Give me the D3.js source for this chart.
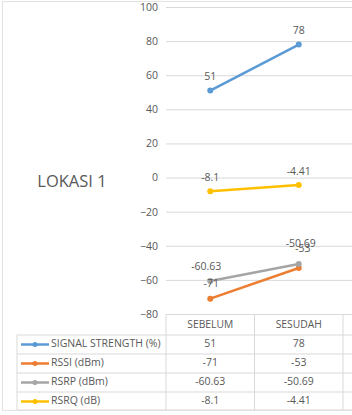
<!DOCTYPE html>
<html>
<head>
<meta charset="utf-8">
<script src="https://cdn.jsdelivr.net/npm/d3@7"></script>
<style>
  body { margin: 0; background: #fff; }
  text { font-family: "Open Sans", "Noto Sans", sans-serif; fill: #595959; }
</style>
</head>
<body>
<div id="chart"></div>
<script>
const width = 352, height = 415;

// data
const categories = ["SEBELUM", "SESUDAH"];
const seriesNames = ["SIGNAL STRENGTH (%)", "RSSI (dBm)", "RSRP (dBm)", "RSRQ (dB)"];
const seriesColors = ["#5B9BD5", "#ED7D31", "#A5A5A5", "#FFC000"];
const signalStrength = [51, 78];
const rssi = [-71, -53];
const rsrp = [-60.63, -50.69];
const rsrq = [-8.1, -4.41];
const labelTexts = [["51", "78"], ["-71", "-53"], ["-60.63", "-50.69"], ["-8.1", "-4.41"]];
const yTicks = [100, 80, 60, 40, 20, 0, -20, -40, -60, -80];
const title = "LOKASI 1";

const series = seriesNames.map((name, i) => ({
  name,
  color: seriesColors[i],
  values: [signalStrength, rssi, rsrp, rsrq][i],
  labels: labelTexts[i]
}));

const svg = d3.select("#chart")
  .append("svg")
    .attr("width", width)
    .attr("height", height);

// chart border
svg.append("rect")
  .attr("x", 2.5).attr("y", 1.5)
  .attr("width", width + 10).attr("height", 409)
  .attr("fill", "none")
  .attr("stroke", "#e3e3e3");

/* scales */
const xScale = d3.scaleBand()
  .domain([...categories, "next"])
  .range([166, 166 + 3 * 88.5]);

const yScale = d3.scaleLinear()
  .domain([-80, 100])
  .range([314, 7]);

const xc = d => xScale(d) + xScale.bandwidth() / 2;

/* gridlines + y axis */
const leftAxis = d3.axisLeft(yScale)
  .tickValues(yTicks)
  .tickSize(-(width - 166))
  .tickPadding(8);

const yAxis = svg.append("g")
  .attr("transform", "translate(166,0)")
  .call(leftAxis);
yAxis.select(".domain").remove();
yAxis.selectAll(".tick line").attr("stroke", "#d9d9d9");
yAxis.selectAll(".tick text")
  .attr("font-size", "10.5px")
  .attr("fill", "#595959")
  .style("font-family", "'Open Sans', sans-serif");

/* table */
const rowTops = [335, 354, 373, 392];
const rowH = 19;
const gridColor = "#d9d9d9";
const table = svg.append("g");

// horizontal lines
rowTops.concat([410]).forEach(y => {
  table.append("line")
    .attr("x1", 17).attr("x2", width)
    .attr("y1", y).attr("y2", y)
    .attr("stroke", gridColor);
});
// vertical lines
table.append("line")
  .attr("x1", 17).attr("x2", 17)
  .attr("y1", 335).attr("y2", 410)
  .attr("stroke", gridColor);
xScale.domain().forEach(c => {
  table.append("line")
    .attr("x1", xScale(c)).attr("x2", xScale(c))
    .attr("y1", 314).attr("y2", 410)
    .attr("stroke", gridColor);
});

// header
table.selectAll(".cat")
  .data(categories)
  .join("text")
    .attr("x", d => xc(d))
    .attr("y", 325)
    .attr("text-anchor", "middle")
    .attr("dominant-baseline", "middle")
    .attr("font-size", "10.3px")
    .text(d => d);

// rows
series.forEach((s, i) => {
  const yMid = rowTops[i] + rowH / 2;
  table.append("line")
    .attr("x1", 21).attr("x2", 49)
    .attr("y1", yMid).attr("y2", yMid)
    .attr("stroke", s.color)
    .attr("stroke-width", 2.5);
  table.append("circle")
    .attr("cx", 35).attr("cy", yMid)
    .attr("r", 2.5)
    .attr("fill", s.color);
  table.append("text")
    .attr("x", 51).attr("y", yMid)
    .attr("dominant-baseline", "middle")
    .attr("font-size", "10.5px")
    .text(s.name);
  categories.forEach((c, j) => {
    table.append("text")
      .attr("x", xc(c)).attr("y", yMid)
      .attr("text-anchor", "middle")
      .attr("dominant-baseline", "middle")
      .attr("font-size", "10.5px")
      .text(s.labels[j]);
  });
});

/* lines + markers */
const line = d3.line()
  .x((d, j) => xc(categories[j]))
  .y(d => yScale(d));

const plot = svg.append("g");
series.forEach(s => {
  plot.append("path")
    .attr("d", line(s.values))
    .attr("fill", "none")
    .attr("stroke", s.color)
    .attr("stroke-width", 2.5);
  plot.selectAll(null)
    .data(s.values)
    .join("circle")
      .attr("cx", (d, j) => xc(categories[j]))
      .attr("cy", d => yScale(d))
      .attr("r", 3)
      .attr("fill", s.color);
});

// data labels (offsets above each point)
const labelOffsets = [
  [[0, -13], [0, -13]],
  [[1, -14], [4, -19]],
  [[-4, -14], [2, -20]],
  [[0, -13], [0, -13]]
];
series.forEach((s, i) => {
  s.values.forEach((v, j) => {
    const [dx, dy] = labelOffsets[i][j];
    plot.append("text")
      .attr("x", xc(categories[j]) + dx)
      .attr("y", yScale(v) + dy)
      .attr("text-anchor", "middle")
      .attr("dominant-baseline", "middle")
      .attr("font-size", "10.5px")
      .text(s.labels[j]);
  });
});

// title
svg.append("text")
  .attr("x", 72).attr("y", 183)
  .attr("text-anchor", "middle")
  .attr("dominant-baseline", "middle")
  .attr("font-size", "16.5px")
  .text(title);
</script>
</body>
</html>
